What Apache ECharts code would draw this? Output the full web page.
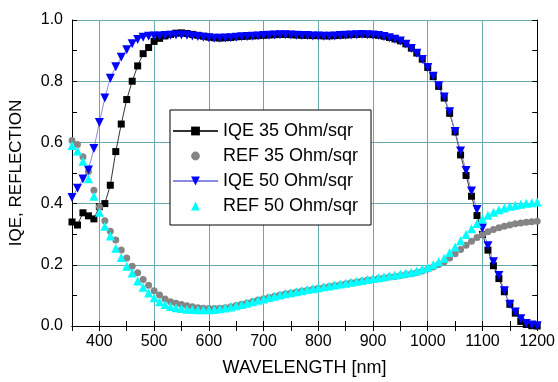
<!DOCTYPE html>
<html>
<head>
<meta charset="utf-8">
<script src="https://cdn.jsdelivr.net/npm/echarts@6/dist/echarts.min.js"></script>
<style>
html,body{margin:0;padding:0;background:#fff;}
#chart{width:558px;height:382px;}
</style>
</head>
<body>
<div id="chart"></div>
<script>
// wavelengths in nm (350..1200, step 10)
const wavelength = [350,360,370,380,390,400,410,420,430,440,450,460,470,480,490,500,510,520,530,540,550,560,570,580,590,600,610,620,630,640,650,660,670,680,690,700,710,720,730,740,750,760,770,780,790,800,810,820,830,840,850,860,870,880,890,900,910,920,930,940,950,960,970,980,990,1000,1010,1020,1030,1040,1050,1060,1070,1080,1090,1100,1110,1120,1130,1140,1150,1160,1170,1180,1190,1200];

const iqe35 = [0.34,0.33,0.37,0.36,0.35,0.39,0.40,0.46,0.57,0.66,0.74,0.80,0.85,0.89,0.91,0.93,0.94,0.948,0.953,0.957,0.958,0.956,0.953,0.950,0.947,0.944,0.942,0.941,0.942,0.943,0.945,0.946,0.947,0.948,0.949,0.950,0.951,0.952,0.953,0.953,0.952,0.951,0.950,0.950,0.949,0.949,0.948,0.948,0.949,0.950,0.951,0.952,0.953,0.954,0.953,0.952,0.950,0.947,0.943,0.938,0.932,0.922,0.908,0.892,0.872,0.845,0.815,0.783,0.745,0.695,0.634,0.559,0.492,0.424,0.361,0.299,0.248,0.197,0.155,0.112,0.071,0.042,0.015,0.005,0.001,0.0];

const ref35 = [0.606,0.593,0.553,0.505,0.444,0.390,0.344,0.310,0.281,0.248,0.222,0.195,0.174,0.152,0.133,0.115,0.101,0.088,0.079,0.074,0.070,0.066,0.063,0.060,0.058,0.057,0.057,0.058,0.060,0.063,0.067,0.071,0.075,0.080,0.085,0.089,0.093,0.097,0.101,0.105,0.108,0.111,0.114,0.117,0.120,0.123,0.126,0.129,0.132,0.135,0.138,0.141,0.144,0.147,0.150,0.152,0.155,0.157,0.160,0.162,0.165,0.168,0.171,0.175,0.180,0.186,0.193,0.201,0.210,0.222,0.236,0.250,0.264,0.277,0.289,0.299,0.308,0.315,0.321,0.326,0.330,0.334,0.337,0.339,0.341,0.342];

const iqe50 = [0.42,0.45,0.48,0.51,0.58,0.665,0.745,0.81,0.847,0.878,0.903,0.922,0.936,0.944,0.947,0.948,0.948,0.949,0.950,0.951,0.951,0.950,0.948,0.946,0.944,0.942,0.940,0.940,0.941,0.942,0.944,0.945,0.946,0.947,0.948,0.949,0.950,0.951,0.952,0.952,0.951,0.950,0.949,0.949,0.948,0.948,0.947,0.947,0.948,0.949,0.950,0.951,0.952,0.953,0.952,0.951,0.949,0.946,0.942,0.937,0.931,0.921,0.907,0.891,0.871,0.845,0.816,0.785,0.748,0.700,0.636,0.572,0.508,0.441,0.381,0.320,0.262,0.210,0.165,0.115,0.071,0.046,0.024,0.008,0.003,0.001];

const ref50 = [0.590,0.572,0.538,0.481,0.424,0.372,0.326,0.294,0.254,0.224,0.195,0.173,0.147,0.127,0.108,0.092,0.079,0.070,0.064,0.060,0.057,0.055,0.054,0.053,0.053,0.053,0.054,0.056,0.059,0.062,0.066,0.070,0.074,0.079,0.084,0.088,0.093,0.097,0.101,0.105,0.109,0.112,0.115,0.119,0.122,0.125,0.128,0.131,0.134,0.137,0.140,0.143,0.146,0.149,0.152,0.155,0.158,0.161,0.164,0.167,0.170,0.173,0.176,0.180,0.186,0.192,0.200,0.210,0.221,0.240,0.258,0.279,0.299,0.318,0.335,0.350,0.362,0.372,0.380,0.386,0.391,0.395,0.398,0.401,0.403,0.405];

const seriesNames = ['IQE 35 Ohm/sqr','REF 35 Ohm/sqr','IQE 50 Ohm/sqr','REF 50 Ohm/sqr'];
const xTitle = 'WAVELENGTH [nm]';
const yTitle = 'IQE, REFLECTION';

function pairs(vals){ return wavelength.map((w,i)=>[w, vals[i]]); }

const FONT = 'Liberation Sans, Arial, sans-serif';
const GRID_COLOR = '#68aaaa';

const chart = echarts.init(document.getElementById('chart'), null, {renderer:'canvas'});
chart.setOption({
  animation: false,
  backgroundColor: '#fff',
  grid: {left: 71, right: 20, top: 20, bottom: 51},
  legend: {
    orient: 'vertical',
    left: 170, top: 110,
    backgroundColor: '#fff',
    borderColor: '#000', borderWidth: 1, borderRadius: 0,
    padding: [12, 13, 10, 2],
    itemWidth: 45, itemHeight: 11, itemGap: 7,
    textStyle: {fontFamily: FONT, fontSize: 18, lineHeight: 16, color: '#000'},
    data: seriesNames
  },
  xAxis: [
    {
      type: 'value', position: 'bottom', min: 350, max: 1200, interval: 50,
      axisLine: {show: true, lineStyle: {color: '#000', width: 1}},
      axisTick: {show: true, inside: true, length: 5, lineStyle: {color: '#000'}},
      axisLabel: {
        fontFamily: FONT, fontSize: 16, color: '#000', margin: 8,
        formatter: v => (v % 100 === 0 && v > 350) ? String(v) : ''
      },
      splitLine: {show: false},
      name: xTitle, nameLocation: 'middle', nameGap: 33,
      nameTextStyle: {fontFamily: FONT, fontSize: 18, color: '#000'}
    },
    {
      type: 'value', position: 'top', min: 350, max: 1200, interval: 50,
      axisLine: {show: true, lineStyle: {color: '#000', width: 1}},
      axisTick: {show: true, inside: true, length: 5, lineStyle: {color: '#000'}},
      axisLabel: {show: false},
      splitLine: {show: false}
    },
    {
      type: 'value', position: 'bottom', min: 350, max: 1200, splitNumber: 8,
      axisLine: {show: false}, axisTick: {show: false}, axisLabel: {show: false},
      splitLine: {show: true, lineStyle: {color: GRID_COLOR, width: 1}}
    }
  ],
  yAxis: [
    {
      type: 'value', position: 'left', min: 0, max: 1, interval: 0.2,
      axisLine: {show: true, lineStyle: {color: '#000', width: 1}},
      axisTick: {show: true, inside: true, length: 5, lineStyle: {color: '#000'}},
      minorTick: {show: true, splitNumber: 2, length: 5, lineStyle: {color: '#000'}},
      axisLabel: {fontFamily: FONT, fontSize: 16, color: '#000', margin: 9, formatter: v => v.toFixed(1)},
      splitLine: {show: true, lineStyle: {color: GRID_COLOR, width: 1}},
      name: yTitle, nameLocation: 'middle', nameGap: 47, nameRotate: 90,
      nameTextStyle: {fontFamily: FONT, fontSize: 17, color: '#000'}
    },
    {
      type: 'value', position: 'right', min: 0, max: 1, interval: 0.2,
      axisLine: {show: true, lineStyle: {color: '#000', width: 1}},
      axisTick: {show: true, inside: true, length: 5, lineStyle: {color: '#000'}},
      minorTick: {show: true, splitNumber: 2, length: 5, lineStyle: {color: '#000'}},
      axisLabel: {show: false},
      splitLine: {show: false}
    }
  ],
  series: [
    {
      name: seriesNames[0], type: 'line', xAxisIndex: 0, yAxisIndex: 0,
      data: pairs(iqe35),
      symbol: 'rect', symbolSize: 7, showAllSymbol: true,
      lineStyle: {color: '#333', width: 1},
      itemStyle: {color: '#000'}
    },
    {
      name: seriesNames[1], type: 'line', xAxisIndex: 0, yAxisIndex: 0,
      data: pairs(ref35),
      symbol: 'circle', symbolSize: 7, showAllSymbol: true,
      lineStyle: {width: 0, opacity: 0},
      itemStyle: {color: '#858585'}
    },
    {
      name: seriesNames[2], type: 'line', xAxisIndex: 0, yAxisIndex: 0,
      data: pairs(iqe50),
      symbol: 'triangle', symbolRotate: 180, symbolSize: 9, showAllSymbol: true,
      lineStyle: {color: '#8a8ae0', width: 1},
      itemStyle: {color: '#0000ff'}
    },
    {
      name: seriesNames[3], type: 'line', xAxisIndex: 0, yAxisIndex: 0,
      data: pairs(ref50),
      symbol: 'triangle', symbolSize: 9, showAllSymbol: true,
      lineStyle: {width: 0, opacity: 0},
      itemStyle: {color: '#00ffff'}
    }
  ]
});
</script>
</body>
</html>
